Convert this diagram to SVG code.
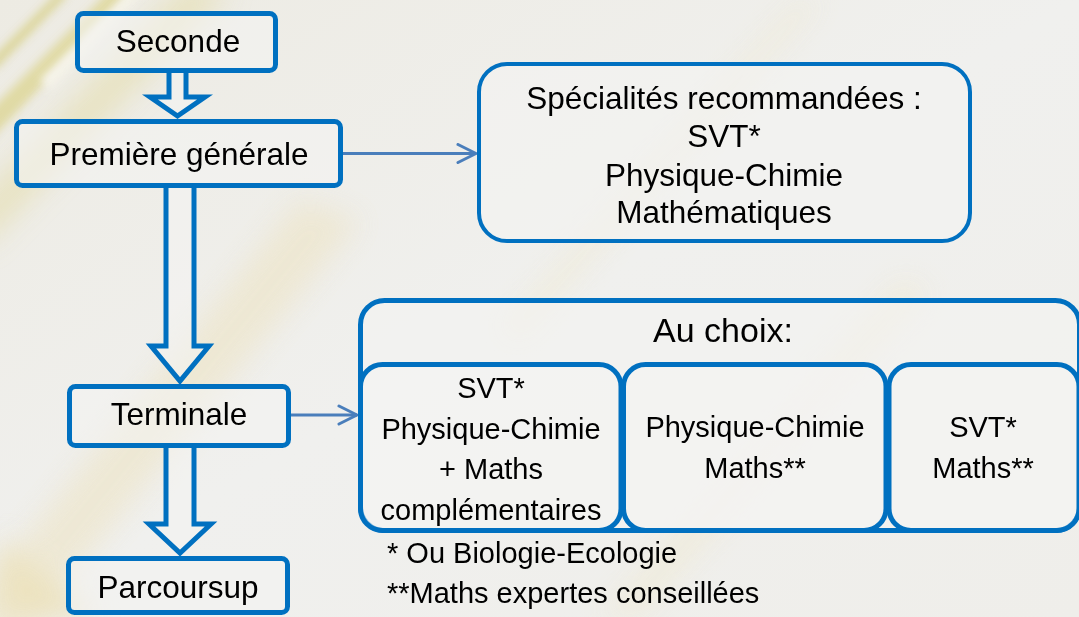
<svg xmlns="http://www.w3.org/2000/svg" width="1079" height="617" viewBox="0 0 1079 617">
<defs>
<filter id="blur" x="-50%" y="-50%" width="200%" height="200%"><feGaussianBlur stdDeviation="14"/></filter>
<filter id="blur2" x="-50%" y="-50%" width="200%" height="200%"><feGaussianBlur stdDeviation="4"/></filter>
<linearGradient id="bg" x1="0" y1="0" x2="1" y2="1">
<stop offset="0" stop-color="#EDEBE3"/>
<stop offset="0.5" stop-color="#F0F0EE"/>
<stop offset="1" stop-color="#EFEEEA"/>
</linearGradient>
<marker id="chev" viewBox="0 0 22 22" refX="20" refY="11" markerWidth="22" markerHeight="22" markerUnits="userSpaceOnUse" orient="auto">
<path d="M2,2 L20,11 L2,20" fill="none" stroke="#4A7EBB" stroke-width="3" stroke-linecap="round" stroke-linejoin="round"/>
</marker>
<style>
.box{fill:#F4F4F2;fill-opacity:0.6;stroke:#0070C0;stroke-width:5}
.barrow{fill:#F4F4F2;fill-opacity:0.6;stroke:#0070C0;stroke-width:5;stroke-linejoin:miter}
.conn{fill:none;stroke:#4A7EBB;stroke-width:3}
text{font-family:"Liberation Sans",Arial,sans-serif;fill:#000;text-anchor:middle}
.t31{font-size:31.5px}
.t29{font-size:29px}
.t34{font-size:34px}
.fn{font-size:29px;text-anchor:start}
</style>
</defs>
<rect width="1079" height="617" fill="url(#bg)"/>
<g opacity="0.8">
<path d="M-20,120 L120,-20 L135,-10 L-10,140 Z" fill="#DDD594" filter="url(#blur2)"/>
<path d="M-10,60 L60,-10 L68,-5 L-5,70 Z" fill="#D8D08A" filter="url(#blur2)"/>
<path d="M-30,210 L190,-20 L230,-10 L-20,250 Z" fill="#E6E0B8" filter="url(#blur)"/>
<path d="M-40,617 L300,200 L360,220 L20,640 Z" fill="#EDE3C2" filter="url(#blur)" opacity="0.7"/>
<path d="M0,540 L100,617 L0,617 Z" fill="#EBDFB4" filter="url(#blur)"/>
<path d="M500,330 L800,0 L820,0 L520,340 Z" fill="#EFE8CC" filter="url(#blur)" opacity="0.6"/>
<path d="M600,617 L900,280 L930,290 L640,617 Z" fill="#F0E8C8" filter="url(#blur)" opacity="0.5"/>
<path d="M40,80 L130,-10 L140,-5 L50,90 Z" fill="#F8F6EC" filter="url(#blur2)"/>
</g>
<g id="connectors">
<path class="barrow" d="M169,72 V97 H150 L177.5,116 L205,97 H186 V72"/>
<path class="barrow" d="M166,187 V346 H151 L180,381 L209,346 H194 V187"/>
<path class="barrow" d="M166,447 V524 H149 L180,553 L211,524 H194 V447"/>
<line class="conn" x1="343" y1="153.5" x2="476" y2="153.5" marker-end="url(#chev)"/>
<line class="conn" x1="291" y1="415" x2="357" y2="415" marker-end="url(#chev)"/>
</g>
<g id="seconde">
<rect class="box" x="77.5" y="13.5" width="198" height="57" rx="6"/>
<text class="t31" x="178" y="52">Seconde</text>
</g>
<g id="premiere">
<rect class="box" x="16.5" y="121.5" width="324" height="64" rx="6"/>
<text class="t31" x="179" y="165">Première générale</text>
</g>
<g id="terminale">
<rect class="box" x="69.5" y="386.5" width="219" height="59" rx="6"/>
<text class="t31" x="179" y="425">Terminale</text>
</g>
<g id="parcoursup">
<rect class="box" x="68.5" y="558.5" width="219" height="54" rx="6"/>
<text class="t31" x="178" y="598">Parcoursup</text>
</g>
<g id="specialites">
<rect class="box" x="479" y="64" width="491" height="177" rx="28" style="stroke-width:4"/>
<text class="t31" x="724" y="109">Spécialités recommandées :</text>
<text class="t31" x="724" y="147">SVT*</text>
<text class="t31" x="724" y="186">Physique-Chimie</text>
<text class="t31" x="724" y="223">Mathématiques</text>
</g>
<g id="au-choix">
<rect class="box" x="360.5" y="300.5" width="719" height="230" rx="24"/>
<text class="t34" x="723" y="342">Au choix:</text>
</g>
<g id="choix-1">
<rect class="box" x="360.5" y="364.5" width="260.5" height="166" rx="22"/>
<text class="t29" x="491" y="398">SVT*</text>
<text class="t29" x="491" y="439">Physique-Chimie</text>
<text class="t29" x="491" y="479">+ Maths</text>
<text class="t29" x="491" y="520">complémentaires</text>
</g>
<g id="choix-2">
<rect class="box" x="623.5" y="364.5" width="262.5" height="166" rx="22"/>
<text class="t29" x="755" y="437">Physique-Chimie</text>
<text class="t29" x="755" y="478">Maths**</text>
</g>
<g id="choix-3">
<rect class="box" x="889" y="364.5" width="190" height="166" rx="22"/>
<text class="t29" x="983" y="437">SVT*</text>
<text class="t29" x="983" y="478">Maths**</text>
</g>
<g id="notes">
<text class="fn" x="387" y="563">* Ou Biologie-Ecologie</text>
<text class="fn" x="387" y="603">**Maths expertes conseillées</text>
</g>
</svg>
